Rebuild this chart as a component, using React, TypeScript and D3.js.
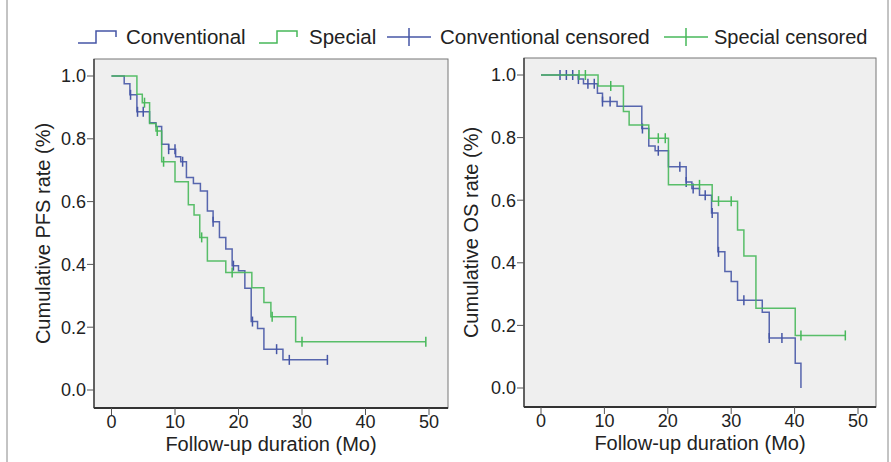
import React from 'react';
import * as d3 from 'd3';

// step points: [month, survival after the drop]
const pfsConventional = [
  [0, 1.0], [2, 0.975], [2.9, 0.94], [4, 0.886], [6, 0.851], [7, 0.839], [7.9, 0.783],
  [9, 0.767], [10.1, 0.743], [10.9, 0.727], [11.8, 0.677], [12.9, 0.658], [14, 0.634],
  [15.1, 0.57], [16, 0.536], [17, 0.486], [18, 0.449], [19, 0.396], [20, 0.38],
  [21, 0.324], [22, 0.218], [23, 0.196], [24, 0.13], [27, 0.096],
];
const pfsConventionalEnd = 34;
const pfsConventionalCensored = [3, 4.1, 5, 9, 10, 11.2, 16, 19.2, 22.2, 26, 28, 34];

const pfsSpecial = [
  [0, 1.0], [4, 0.942], [4.85, 0.915], [6, 0.849], [7, 0.825], [7.9, 0.727], [10, 0.663],
  [12.1, 0.59], [13, 0.557], [13.9, 0.486], [15.1, 0.411], [18, 0.374], [22.1, 0.326],
  [24, 0.279], [25.1, 0.233], [29, 0.154],
];
const pfsSpecialEnd = 49.5;
const pfsSpecialCensored = [5.2, 7.2, 8.2, 14.2, 19, 25.3, 30, 49.5];

const osConventional = [
  [0, 1.0], [5.9, 0.987], [6.7, 0.972], [8.9, 0.942], [9.7, 0.915], [12, 0.9], [15.9, 0.829],
  [17, 0.773], [18, 0.758], [20.1, 0.707], [22.9, 0.658], [23.8, 0.637], [25, 0.616],
  [26.9, 0.559], [27.9, 0.435], [29, 0.372], [30, 0.34], [31, 0.28], [34.9, 0.242],
  [36, 0.16], [40.1, 0.079], [41, 0.0],
];
const osConventionalEnd = 41;
const osConventionalCensored = [3, 4, 5, 5.9, 7.4, 8.4, 9.7, 10.9, 16, 18.5, 21.9, 22.9, 24, 25.9, 27, 28, 32, 36, 38];

const osSpecial = [
  [0, 1.0], [9, 0.965], [13, 0.883], [13.9, 0.84], [17, 0.798], [20.1, 0.649], [27, 0.597],
  [31, 0.505], [32, 0.422], [33.9, 0.255], [40.1, 0.168],
];
const osSpecialEnd = 48;
const osSpecialCensored = [6, 7, 11, 18.5, 19.6, 25, 28, 30, 41, 48];

const xTicks = [0, 10, 20, 30, 40, 50];
const yTicks = [0, 0.2, 0.4, 0.6, 0.8, 1.0];
const legendLabels = ['Conventional', 'Special', 'Conventional censored', 'Special censored'];

const BLUE = '#4656a6';
const GREEN = '#47b85a';
const FONT = "'Liberation Sans', Arial, sans-serif";

const survivalAt = (steps, t) => {
  let s = steps[0][1];
  for (const [st, sv] of steps) if (st <= t) s = sv;
  return s;
};

const Curve = ({ steps, end, censored, color, x, y }) => {
  const pts = [...steps, [end, steps[steps.length - 1][1]]];
  const line = d3.line().x((d) => x(d[0])).y((d) => y(d[1])).curve(d3.curveStepAfter);
  return (
    <g>
      <path d={line(pts)} fill="none" stroke={color} strokeWidth={1.5} strokeOpacity={0.9} />
      {censored.map((t, i) => (
        <line key={i} x1={x(t)} x2={x(t)} y1={y(survivalAt(steps, t)) - 5} y2={y(survivalAt(steps, t)) + 5}
          stroke={color} strokeWidth={1.5} />
      ))}
    </g>
  );
};

const Panel = ({ box, x0, x50, y0, y1, title, titleX, conv, spec }) => {
  const x = d3.scaleLinear().domain([0, 50]).range([x0, x50]);
  const y = d3.scaleLinear().domain([0, 1]).range([y0, y1]);
  const [l, t, r, b] = box;
  return (
    <g>
      <rect x={l} y={t} width={r - l} height={b - t} fill="#efefef" stroke="#777" strokeWidth={1} />
      <line x1={l} x2={l} y1={t} y2={b} stroke="#444" strokeWidth={1.5} />
      <line x1={l} x2={r} y1={b} y2={b} stroke="#333" strokeWidth={2} />
      {yTicks.map((v) => (
        <g key={v}>
          <line x1={l - 7} x2={l} y1={y(v)} y2={y(v)} stroke="#555" />
          <text x={l - 8} y={y(v)} dy="0.35em" textAnchor="end" fontSize={18} fill="#222">{d3.format('.1f')(v)}</text>
        </g>
      ))}
      {xTicks.map((v) => (
        <g key={v}>
          <line x1={x(v)} x2={x(v)} y1={b} y2={b + 7} stroke="#555" />
          <text x={x(v)} y={b + 20} textAnchor="middle" fontSize={18} fill="#222">{v}</text>
        </g>
      ))}
      <text x={(l + r) / 2} y={b + 43} textAnchor="middle" fontSize={20} fill="#222">Follow-up duration (Mo)</text>
      <text transform={`translate(${titleX},${(t + b) / 2}) rotate(-90)`} textAnchor="middle" dy="0.35em" fontSize={20} fill="#222">{title}</text>
      <Curve {...conv} color={BLUE} x={x} y={y} />
      <Curve {...spec} color={GREEN} x={x} y={y} />
    </g>
  );
};

const StepIcon = ({ x, color }) => (
  <path d={`M${x},43 H${x + 18} V31 H${x + 38} V37`} fill="none" stroke={color} strokeWidth={1.5} />
);
const CrossIcon = ({ x, color }) => (
  <g stroke={color} strokeWidth={1.5}>
    <line x1={x} x2={x + 44} y1={37} y2={37} />
    <line x1={x + 22} x2={x + 22} y1={28} y2={46} />
  </g>
);

export default function App() {
  return (
    <svg width={891} height={462} style={{ position: 'absolute', left: 0, top: 0, background: '#fff' }} fontFamily={FONT}>
      <line x1={7} x2={7} y1={0} y2={462} stroke="#888" />
      <line x1={888} x2={888} y1={0} y2={462} stroke="#888" />
      <g>
        <StepIcon x={78} color={BLUE} />
        <text x={126} y={44} fontSize={20.5} fill="#222">{legendLabels[0]}</text>
        <StepIcon x={259} color={GREEN} />
        <text x={309} y={44} fontSize={20.5} fill="#222">{legendLabels[1]}</text>
        <CrossIcon x={387} color={BLUE} />
        <text x={440} y={44} fontSize={20.5} fill="#222">{legendLabels[2]}</text>
        <CrossIcon x={664} color={GREEN} />
        <text x={714} y={44} fontSize={20} fill="#222">{legendLabels[3]}</text>
      </g>
      <Panel box={[94, 59, 448, 408]} x0={111.5} x50={429} y0={390} y1={76}
        title="Cumulative PFS rate (%)" titleX={43}
        conv={{ steps: pfsConventional, end: pfsConventionalEnd, censored: pfsConventionalCensored }}
        spec={{ steps: pfsSpecial, end: pfsSpecialEnd, censored: pfsSpecialCensored }} />
      <Panel box={[524, 58, 876, 407]} x0={541} x50={858} y0={388} y1={75}
        title="Cumulative OS rate (%)" titleX={471}
        conv={{ steps: osConventional, end: osConventionalEnd, censored: osConventionalCensored }}
        spec={{ steps: osSpecial, end: osSpecialEnd, censored: osSpecialCensored }} />
    </svg>
  );
}
